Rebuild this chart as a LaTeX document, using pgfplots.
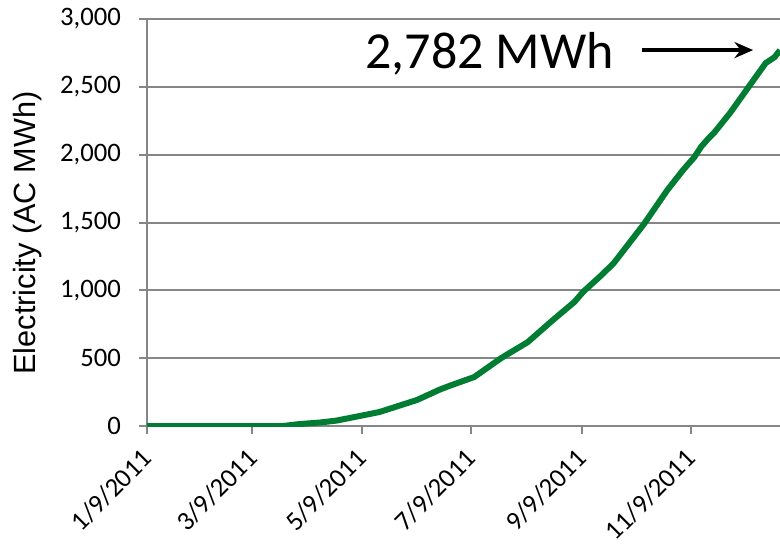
\documentclass[border=0pt]{standalone}
\usepackage{fontspec}
\setmainfont{Carlito}
\newfontfamily\arialfont{Liberation Sans}
\usepackage{pgfplots}
\pgfplotsset{compat=1.18}
\usetikzlibrary{arrows.meta}

\definecolor{linegreen}{RGB}{0,125,51}
\definecolor{gridgray}{RGB}{134,134,134}

\begin{document}
\begin{tikzpicture}
\begin{axis}[
    scale only axis,
    width=474.75pt, height=305.25pt,
    xmin=0, xmax=354, ymin=0, ymax=3000,
    axis lines*=left,
    axis line style={gridgray, line width=1.5pt},
    ytick={0,500,...,3000},
    xtick={0,59,120,181,243,304},
    xticklabels={1/9/2011,3/9/2011,5/9/2011,7/9/2011,9/9/2011,11/9/2011},
    ymajorgrids,
    grid style={gridgray, line width=1.5pt},
    tick style={gridgray, line width=1.5pt},
    tick align=outside,
    major tick length=6pt,
    /pgf/number format/assume math mode=true,
    /pgf/number format/1000 sep={,},
    yticklabel style={font=\fontsize{20}{22}\selectfont, xshift=-10pt},
    xticklabel style={font=\fontsize{20}{22}\selectfont, rotate=45, anchor=north east, xshift=-7pt},
    ylabel={\arialfont Electricity (AC MWh)},
    ylabel style={font=\fontsize{23}{25}\selectfont, at={(rel axis cs:-0.188,0.474)}, anchor=center},
]
\addplot[linegreen, line width=4.5pt] coordinates {
    (0,0) (76,0) (85,14) (97,26) (106,40) (119,74) (130,103) (151,192)
    (164,270) (170,300) (183,361) (198,500) (213,619) (227,781) (239,914)
    (244,990) (254,1110) (261,1200) (278,1490) (291,1739) (300,1890)
    (306,1980) (310,2060) (314,2120) (317,2159) (326,2306) (338,2528)
    (346,2675) (351,2719) (354,2770)
};
\node[anchor=base west, font=\fontsize{39}{40}\selectfont, inner sep=0pt]
    at (axis cs:122,2638) {2,782 MWh};
\draw[-{Stealth[length=14pt,width=12pt]}, line width=3pt]
    (axis cs:277,2771) -- (axis cs:339,2771);
\coordinate (bl) at (rel axis cs:-0.2322,-0.2899);
\coordinate (tr) at (rel axis cs:1,1.0467);
\end{axis}
\pgfresetboundingbox
\useasboundingbox (bl) rectangle (tr);
\end{tikzpicture}
\end{document}
